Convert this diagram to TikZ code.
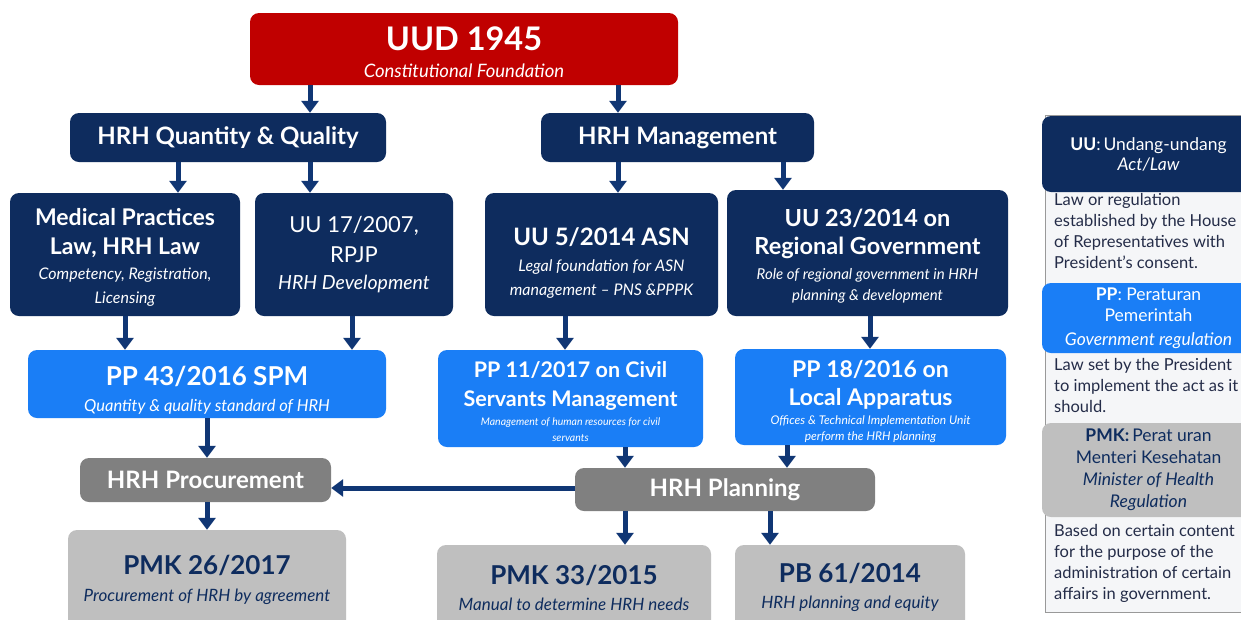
\documentclass[tikz,border=0pt]{standalone}
\usepackage{fontspec}
\setmainfont{Lato}
\usetikzlibrary{arrows.meta}
\definecolor{uudred}{RGB}{192,0,0}
\definecolor{navy}{RGB}{14,44,94}
\definecolor{brightblue}{RGB}{26,126,246}
\definecolor{midgray}{RGB}{128,128,128}
\definecolor{palegray}{RGB}{191,191,191}
\definecolor{flowblue}{RGB}{16,54,116}
\definecolor{panelgray}{RGB}{245,246,248}
\definecolor{noteink}{RGB}{36,44,72}
% size of one line, and line pitch of a node
\newcommand{\fs}[1]{\fontsize{#1}{#1}\selectfont}
\newcommand{\lh}[1]{\fontsize{10}{#1}\selectfont\lineskiplimit=-60pt}
\newcommand{\hb}[1]{\bfseries\fs{#1}}
\newcommand{\hi}[1]{\itshape\fs{#1}}
\newcommand{\sk}[1]{\rule{0pt}{#1}}
\begin{document}
\begin{tikzpicture}[x=1pt,y=-1pt]
		\tikzstyle{box}=[rounded corners=9pt,inner sep=0pt,align=center,text=white]
		\tikzstyle{navy-box}=[box,fill=navy]
		\tikzstyle{blue-box}=[box,fill=brightblue]
		\tikzstyle{gray-box}=[box,fill=midgray]
		\tikzstyle{pale-box}=[box,fill=palegray,text=navy]
		\tikzstyle{note}=[anchor=north west,inner sep=0pt,align=left,text=noteink,font=\lh{21}]
		\tikzstyle{flow}=[-{Triangle[width=17pt,length=12pt]},line width=5pt,color=flowblue]
		\clip (0,0) rectangle (1241,619);
		\fill [white] (0,0) rectangle (1241,619);
		% constitution
		\node [box,fill=uudred,minimum width=428pt,minimum height=72pt,font=\lh{27}] at (464,49) (uud) {\sk{31pt}\hb{32.5}UUD 1945\\\hi{18.5}Constitutional Foundation};
		% second level
		\node [navy-box,minimum width=316pt,minimum height=49pt,font=\hb{24}] at (228,137.5) (qq) {HRH Quantity \& Quality};
		\node [navy-box,minimum width=273pt,minimum height=49pt,font=\hb{24}] at (677.5,137.5) (mgmt) {HRH Management};
		% acts
		\node [navy-box,minimum width=230pt,minimum height=123pt,font=\lh{24}] at (125,254.5) (med) {\sk{22pt}\hb{23}Medical Practices\\[5pt]\hb{23}Law, HRH Law\\[1pt]\hi{16}Competency, Registration,\\\hi{16}Licensing};
		\node [navy-box,minimum width=198pt,minimum height=123pt,font=\lh{27}] at (354,254.5) (uu17) {\fs{22}UU 17/2007,\\[3pt]\fs{22}RPJP\\\hi{19.5}HRH Development};
		\node [navy-box,minimum width=233pt,minimum height=123pt,font=\lh{24}] at (601.5,254.5) (asn) {\sk{35pt}\hb{24}UU 5/2014 ASN\\[2.5pt]\hi{16}Legal foundation for ASN\\\hi{16}management -- PNS \&PPPK};
		\node [navy-box,minimum width=281pt,minimum height=126pt,font=\lh{21}] at (867.5,253) (uu23) {\sk{24pt}\hb{23.5}UU 23/2014 on\\[7pt]\hb{23.5}Regional Government\\[4pt]\hi{15}Role of regional government in HRH\\\hi{15}planning \& development};
		% regulations
		\node [blue-box,minimum width=358pt,minimum height=68pt,font=\lh{26}] at (207,384) (pp43) {\sk{31pt}\hb{26}PP 43/2016 SPM\\\hi{16.5}Quantity \& quality standard of HRH};
		\node [blue-box,minimum width=265pt,minimum height=97pt,font=\lh{16}] at (570.5,398.5) (pp11) {\sk{23pt}\hb{21.5}PP 11/2017 on Civil\\[13pt]\hb{21.5}Servants Management\\[3pt]\hi{10.5}Management of human resources for civil\\\hi{10.5}servants};
		\node [blue-box,minimum width=271pt,minimum height=96pt,font=\lh{16}] at (870.5,397) (pp18) {\sk{26pt}\hb{23}PP 18/2016 on\\[12pt]\hb{23}Local Apparatus\\[3pt]\hi{12}Offices \& Technical Implementation Unit\\\hi{12}perform the HRH planning};
		% functions
		\node [gray-box,minimum width=251pt,minimum height=44pt,font=\hb{24}] at (205.5,480) (proc) {HRH Procurement};
		\node [gray-box,minimum width=300pt,minimum height=43pt,font=\hb{24}] at (725,489.5) (plan) {HRH Planning};
		% ministerial rules
		\node [pale-box,minimum width=278pt,minimum height=100pt,font=\lh{27}] at (207,580) (pmk26) {\hb{26}PMK 26/2017\\\hi{17}Procurement of HRH by agreement};
		\node [pale-box,minimum width=274pt,minimum height=85pt,font=\lh{26}] at (574,587.5) (pmk33) {\hb{26}PMK 33/2015\\\hi{17}Manual to determine HRH needs};
		\node [pale-box,minimum width=230pt,minimum height=85pt,font=\lh{26}] at (850,587.5) (pb61) {\hb{26}PB 61/2014\\\hi{17}HRH planning and equity};
		% flow
		\draw [flow] (uud.south -| 310,0) -- (qq.north -| 310,0);
		\draw [flow] (uud.south -| 618,0) -- (mgmt.north -| 618,0);
		\draw [flow] (qq.south -| 178,0) -- (med.north -| 178,0);
		\draw [flow] (qq.south -| 310,0) -- (uu17.north -| 310,0);
		\draw [flow] (mgmt.south -| 618,0) -- (asn.north -| 618,0);
		\draw [flow] (mgmt.south -| 783,0) -- (uu23.north -| 783,0);
		\draw [flow] (med.south -| 125,0) -- (pp43.north -| 125,0);
		\draw [flow] (uu17.south -| 352,0) -- (pp43.north -| 352,0);
		\draw [flow] (asn.south -| 565,0) -- (pp11.north -| 565,0);
		\draw [flow] (uu23.south -| 870,0) -- (pp18.north -| 870,0);
		\draw [flow] (pp43.south -| 207,0) -- (proc.north -| 207,0);
		\draw [flow] (pp11.south -| 625,0) -- (plan.north -| 625,0);
		\draw [flow] (pp18.south -| 787,0) -- (plan.north -| 787,0);
		\draw [flow] (plan.west |- 0,488) -- (proc.east |- 0,488);
		\draw [flow] (proc.south -| 207,0) -- (pmk26.north -| 207,0);
		\draw [flow] (plan.south -| 625,0) -- (pmk33.north -| 625,0);
		\draw [flow] (plan.south -| 770,0) -- (pb61.north -| 770,0);
		% legend
		\draw [fill=panelgray,draw=gray!80] (1045,115) rectangle (1260,612);
		\node [navy-box,minimum width=213pt,minimum height=76pt,font=\lh{20}] at (1148.5,154) (uukey) {\fs{17.5}\textbf{UU}:\,Undang-undang\\\hi{17.5}Act/Law};
		\node [note] at (1054,193) (uunote) {\fs{16.5}Law or regulation\\\fs{16.5}established by the House\\\fs{16.5}of Representatives with\\\fs{16.5}President's consent.};
		\node [blue-box,minimum width=213pt,minimum height=70pt,font=\lh{21}] at (1148.5,318) (ppkey) {\fs{17.5}\textbf{PP}: Peraturan\\\fs{17.5}Pemerintah\\[3pt]\hi{17.5}Government regulation};
		\node [note] at (1054,358) (ppnote) {\fs{16.5}Law set by the President\\\fs{16.5}to implement the act as it\\\fs{16.5}should.};
		\node [pale-box,minimum width=213pt,minimum height=94pt,font=\lh{22}] at (1148.5,470) (pmkkey) {\fs{17.5}\textbf{PMK:}\,Perat uran\\\fs{17.5}Menteri Kesehatan\\\hi{17.5}Minister of Health\\\hi{17.5}Regulation};
		\node [note] at (1054,524) (pmknote) {\fs{16.5}Based on certain content\\\fs{16.5}for the purpose of the\\\fs{16.5}administration of certain\\\fs{16.5}affairs in government.};
	\end{tikzpicture}
\end{document}
